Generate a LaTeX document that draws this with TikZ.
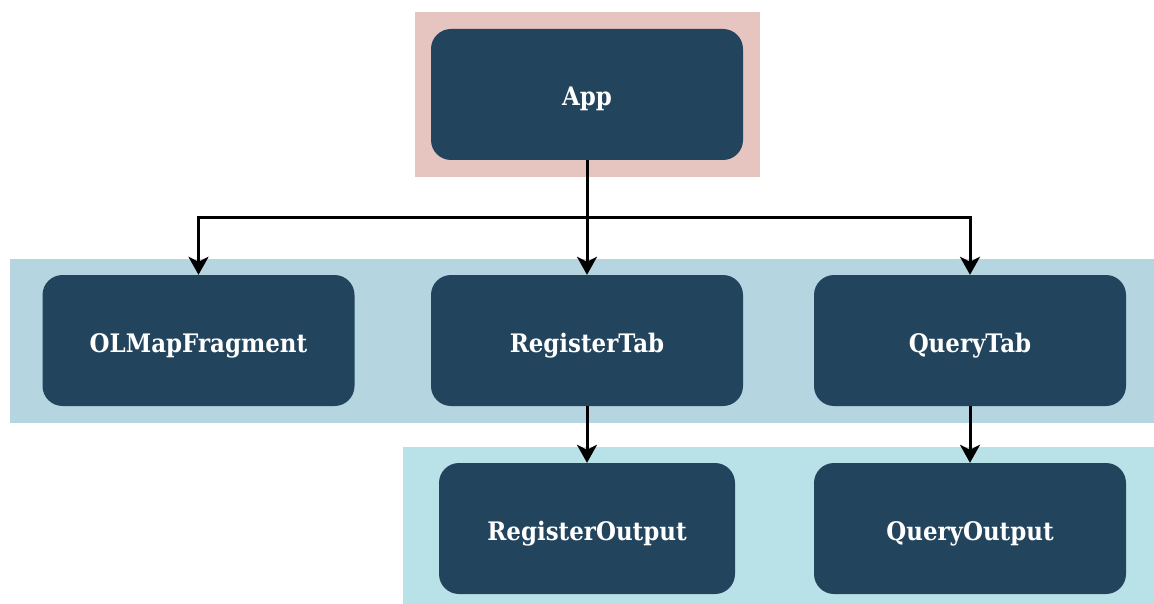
\documentclass[tikz,border=0pt]{standalone}
\usepackage{fontspec}
\setmainfont{DejaVu Serif}
\newfontfamily\labelfont[FakeStretch=0.9]{DejaVu Serif}
\usetikzlibrary{arrows.meta}
\definecolor{nodefill}{RGB}{35,68,93}
\definecolor{rootband}{RGB}{230,196,192}
\definecolor{midband}{RGB}{181,213,224}
\definecolor{lowband}{RGB}{184,226,232}
\tikzset{
  comp/.style={draw=none, fill=nodefill, rounded corners=20pt, text=white,
    font=\labelfont\fontsize{25.5}{30}\selectfont\bfseries, minimum width=312pt, minimum height=131pt,
    inner sep=0pt, text height=23pt, text depth=0pt},
  link/.style={line width=3pt, -{Stealth[length=18pt,width=20pt,inset=5pt]}},
  bus/.style={line width=3pt}
}
\begin{document}
\begin{tikzpicture}[x=1pt,y=-1pt]
\useasboundingbox (0,0) rectangle (1154,604);
% background bands
\fill[rootband] (415,12) rectangle (760,177);
\fill[midband] (10,259) rectangle (1154,423);
\fill[lowband] (403,447) rectangle (1154,604);
% components
\node[comp] (app) at (587,94.5) {App};
\node[comp] (olmap) at (198.5,340.5) {OLMapFragment};
\node[comp] (regtab) at (587,340.5) {RegisterTab};
\node[comp] (qtab) at (970,340.5) {QueryTab};
\node[comp, minimum width=296pt] (regout) at (587,528.5) {RegisterOutput};
\node[comp] (qout) at (970,528.5) {QueryOutput};
% branch point on the bus
\coordinate (fork) at (587,218);
\draw[bus] (app.south) -- (fork);
\draw[link] (app.south) -- (regtab.north);
\draw[link] (fork) -| (olmap.north);
\draw[link] (fork) -| (qtab.north);
\draw[link] (regtab.south) -- (regout.north);
\draw[link] (qtab.south) -- (qout.north);
\end{tikzpicture}
\end{document}
